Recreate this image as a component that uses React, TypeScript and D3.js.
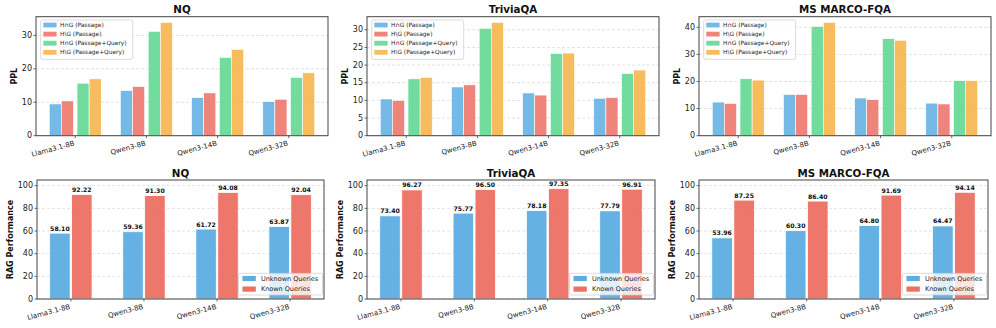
import * as d3 from 'd3';

const MODELS = ['Llama3.1-8B', 'Qwen3-8B', 'Qwen3-14B', 'Qwen3-32B'];
const DATASETS = ['NQ', 'TriviaQA', 'MS MARCO-FQA'];

// PPL series (top row)
const PPL_SERIES = ['H\u2229G (Passage)', 'H\\G (Passage)', 'H\u2229G (Passage+Query)', 'H\\G (Passage+Query)'];
const PPL_COLORS = ['#5DADE2', '#EC7063', '#58D68D', '#F5B041'];

const NQ_PPL = [
  [9.5, 13.5, 11.4, 10.2],
  [10.4, 14.7, 12.8, 10.9],
  [15.7, 31.2, 23.4, 17.4],
  [17.0, 33.9, 25.8, 18.8],
];
const TRIVIA_PPL = [
  [10.4, 13.8, 12.1, 10.6],
  [10.0, 14.4, 11.5, 10.8],
  [16.1, 30.4, 23.3, 17.6],
  [16.5, 32.1, 23.4, 18.6],
];
const MSMARCO_PPL = [
  [12.4, 15.2, 13.9, 12.0],
  [11.9, 15.2, 13.3, 11.7],
  [21.0, 40.3, 35.8, 20.3],
  [20.5, 41.8, 35.2, 20.3],
];

const NQ_PPL_TICKS = [0, 10, 20, 30];
const TRIVIA_PPL_TICKS = [0, 5, 10, 15, 20, 25, 30];
const MSMARCO_PPL_TICKS = [0, 10, 20, 30, 40];

// RAG performance (bottom row)
const RAG_SERIES = ['Unknown Queries', 'Known Queries'];
const RAG_COLORS = ['#5DADE2', '#EC7063'];
const NQ_UNKNOWN = [58.10, 59.36, 61.72, 63.87];
const NQ_KNOWN = [92.22, 91.30, 94.08, 92.04];
const TRIVIA_UNKNOWN = [73.40, 75.77, 78.18, 77.79];
const TRIVIA_KNOWN = [96.27, 96.50, 97.35, 96.91];
const MSMARCO_UNKNOWN = [53.96, 60.30, 64.80, 64.47];
const MSMARCO_KNOWN = [87.25, 86.40, 91.69, 94.14];
const RAG_TICKS = [0, 20, 40, 60, 80, 100];

const FONT = '"DejaVu Sans", sans-serif';
const SPINE = '#444';

type Frame = { x0: number; x1: number; y0: number; y1: number };

const TOP_FRAMES: Frame[] = [
  { x0: 36, x1: 328, y0: 16.7, y1: 135.7 },
  { x0: 367, x1: 659, y0: 16.7, y1: 135.7 },
  { x0: 699, x1: 991, y0: 16.7, y1: 135.7 },
];
const BOTTOM_FRAMES: Frame[] = [
  { x0: 37, x1: 324, y0: 180, y1: 299 },
  { x0: 367, x1: 655, y0: 180, y1: 299 },
  { x0: 699, x1: 988, y0: 180, y1: 299 },
];

function Axes({ f, title, ylabel, ylabelOff, yTicks, ymax, xdom }: {
  f: Frame; title: string; ylabel: string; ylabelOff: number; yTicks: number[]; ymax: number; xdom: [number, number];
}) {
  const x = d3.scaleLinear().domain(xdom).range([f.x0, f.x1]);
  const y = d3.scaleLinear().domain([0, ymax]).range([f.y1, f.y0]);
  return {
    x, y,
    back: (
      <g>
        {yTicks.map(t => (
          <line key={t} x1={f.x0} x2={f.x1} y1={y(t)} y2={y(t)} stroke="#bbb" strokeWidth={0.6}
            strokeDasharray="3,2" opacity={0.7} />
        ))}
      </g>
    ),
    front: (
      <g fontFamily={FONT}>
        <rect x={f.x0} y={f.y0} width={f.x1 - f.x0} height={f.y1 - f.y0} fill="none" stroke={SPINE} strokeWidth={1} />
        {yTicks.map(t => (
          <g key={t}>
            <line x1={f.x0 - 2.5} x2={f.x0} y1={y(t)} y2={y(t)} stroke={SPINE} strokeWidth={0.8} />
            <text x={f.x0 - 4} y={y(t)} fontSize={8} textAnchor="end" dominantBaseline="central" fill="#222">{t}</text>
          </g>
        ))}
        {MODELS.map((m, i) => (
          <g key={m}>
            <line x1={x(i)} x2={x(i)} y1={f.y1} y2={f.y1 + 2.5} stroke={SPINE} strokeWidth={0.8} />
            <text transform={`translate(${x(i) - 1.5},${f.y1 + 5}) rotate(-15)`} fontSize={7} textAnchor="end"
              dominantBaseline="hanging" fill="#222">{m}</text>
          </g>
        ))}
        <text x={(f.x0 + f.x1) / 2} y={f.y0 - 3.5} fontSize={10.3} fontWeight="bold" textAnchor="middle" fill="#111">{title}</text>
        <text transform={`translate(${f.x0 - ylabelOff},${(f.y0 + f.y1) / 2}) rotate(-90)`} fontSize={8} fontWeight="bold"
          textAnchor="middle" dominantBaseline="central" fill="#111">{ylabel}</text>
      </g>
    ),
  };
}

const PPL_OFFSETS = [-0.28, -0.11, 0.11, 0.28];
const PPL_W = 0.17;

function PplPanel({ f, title, data, ticks }: { f: Frame; title: string; data: number[][]; ticks: number[] }) {
  const ymax = d3.max(data.flat())! * 1.05;
  const ax = Axes({ f, title, ylabel: 'PPL', ylabelOff: 22, yTicks: ticks, ymax, xdom: [-0.5515, 3.5515] });
  const { x, y } = ax;
  const lx = f.x0 + 4.7;
  const ly = f.y0 + 3.3;
  return (
    <g>
      {ax.back}
      {data.map((vals, s) => vals.map((v, i) => (
        <rect key={`${s}-${i}`} x={x(i + PPL_OFFSETS[s] - PPL_W / 2)} width={x(PPL_W) - x(0)}
          y={y(v)} height={y(0) - y(v)} fill={PPL_COLORS[s]} fillOpacity={0.85} stroke="#fff" strokeWidth={0.6} />
      )))}
      <g fontFamily={FONT}>
        <rect x={lx} y={ly} width={92} height={39.3} rx={1.5} fill="#fff" fillOpacity={0.8} stroke="#ccc" strokeWidth={0.7} />
        {PPL_SERIES.map((s, k) => (
          <g key={s}>
            <rect x={lx + 2.6} y={ly + 5 + k * 9.1 - 2.4} width={13.3} height={4.8} fill={PPL_COLORS[k]} fillOpacity={0.85} />
            <text x={lx + 19.3} y={ly + 5 + k * 9.1} fontSize={5.9} dominantBaseline="central" fill="#222">{s}</text>
          </g>
        ))}
      </g>
      {ax.front}
    </g>
  );
}

const RAG_OFFSETS = [-0.15, 0.15];
const RAG_W = 0.28;

function RagPanel({ f, title, unknown, known }: { f: Frame; title: string; unknown: number[]; known: number[] }) {
  const ax = Axes({ f, title, ylabel: 'RAG Performance', ylabelOff: 27, yTicks: RAG_TICKS, ymax: 105, xdom: [-0.4635, 3.4635] });
  const { x, y } = ax;
  const series = [unknown, known];
  const lw = 84;
  const lx = f.x1 - 1.5 - lw;
  const ly = 273.3;
  return (
    <g>
      {ax.back}
      {series.map((vals, s) => vals.map((v, i) => (
        <g key={`${s}-${i}`}>
          <rect x={x(i + RAG_OFFSETS[s] - RAG_W / 2)} width={x(RAG_W) - x(0)} y={y(v)} height={y(0) - y(v)}
            fill={RAG_COLORS[s]} fillOpacity={0.95} stroke="#fff" strokeWidth={0.8} />
          <text x={x(i + RAG_OFFSETS[s])} y={y(v) - 2.5} fontSize={6.2} fontWeight="bold" textAnchor="middle"
            fontFamily={FONT} fill="#111">{v.toFixed(2)}</text>
        </g>
      )))}
      <g fontFamily={FONT}>
        <rect x={lx} y={ly} width={lw} height={21.7} rx={1.5} fill="#fff" fillOpacity={0.8} stroke="#ccc" strokeWidth={0.7} />
        {RAG_SERIES.map((s, k) => (
          <g key={s}>
            <rect x={lx + 4} y={ly + 5.2 + k * 10.6 - 2.6} width={13.3} height={5.2} fill={RAG_COLORS[k]} />
            <text x={lx + 22.4} y={ly + 5.2 + k * 10.6} fontSize={6.5} dominantBaseline="central" fill="#222">{s}</text>
          </g>
        ))}
      </g>
      {ax.front}
    </g>
  );
}

export default function App() {
  const ppl = [NQ_PPL, TRIVIA_PPL, MSMARCO_PPL];
  const pplTicks = [NQ_PPL_TICKS, TRIVIA_PPL_TICKS, MSMARCO_PPL_TICKS];
  const unknown = [NQ_UNKNOWN, TRIVIA_UNKNOWN, MSMARCO_UNKNOWN];
  const known = [NQ_KNOWN, TRIVIA_KNOWN, MSMARCO_KNOWN];
  return (
    <svg width={996} height={328} style={{ position: 'absolute', left: 0, top: 0, background: '#fff' }}>
      <rect width={996} height={328} fill="#fff" />
      {DATASETS.map((d, k) => (
        <PplPanel key={`t${d}`} f={TOP_FRAMES[k]} title={d} data={ppl[k]} ticks={pplTicks[k]} />
      ))}
      {DATASETS.map((d, k) => (
        <RagPanel key={`b${d}`} f={BOTTOM_FRAMES[k]} title={d} unknown={unknown[k]} known={known[k]} />
      ))}
    </svg>
  );
}
